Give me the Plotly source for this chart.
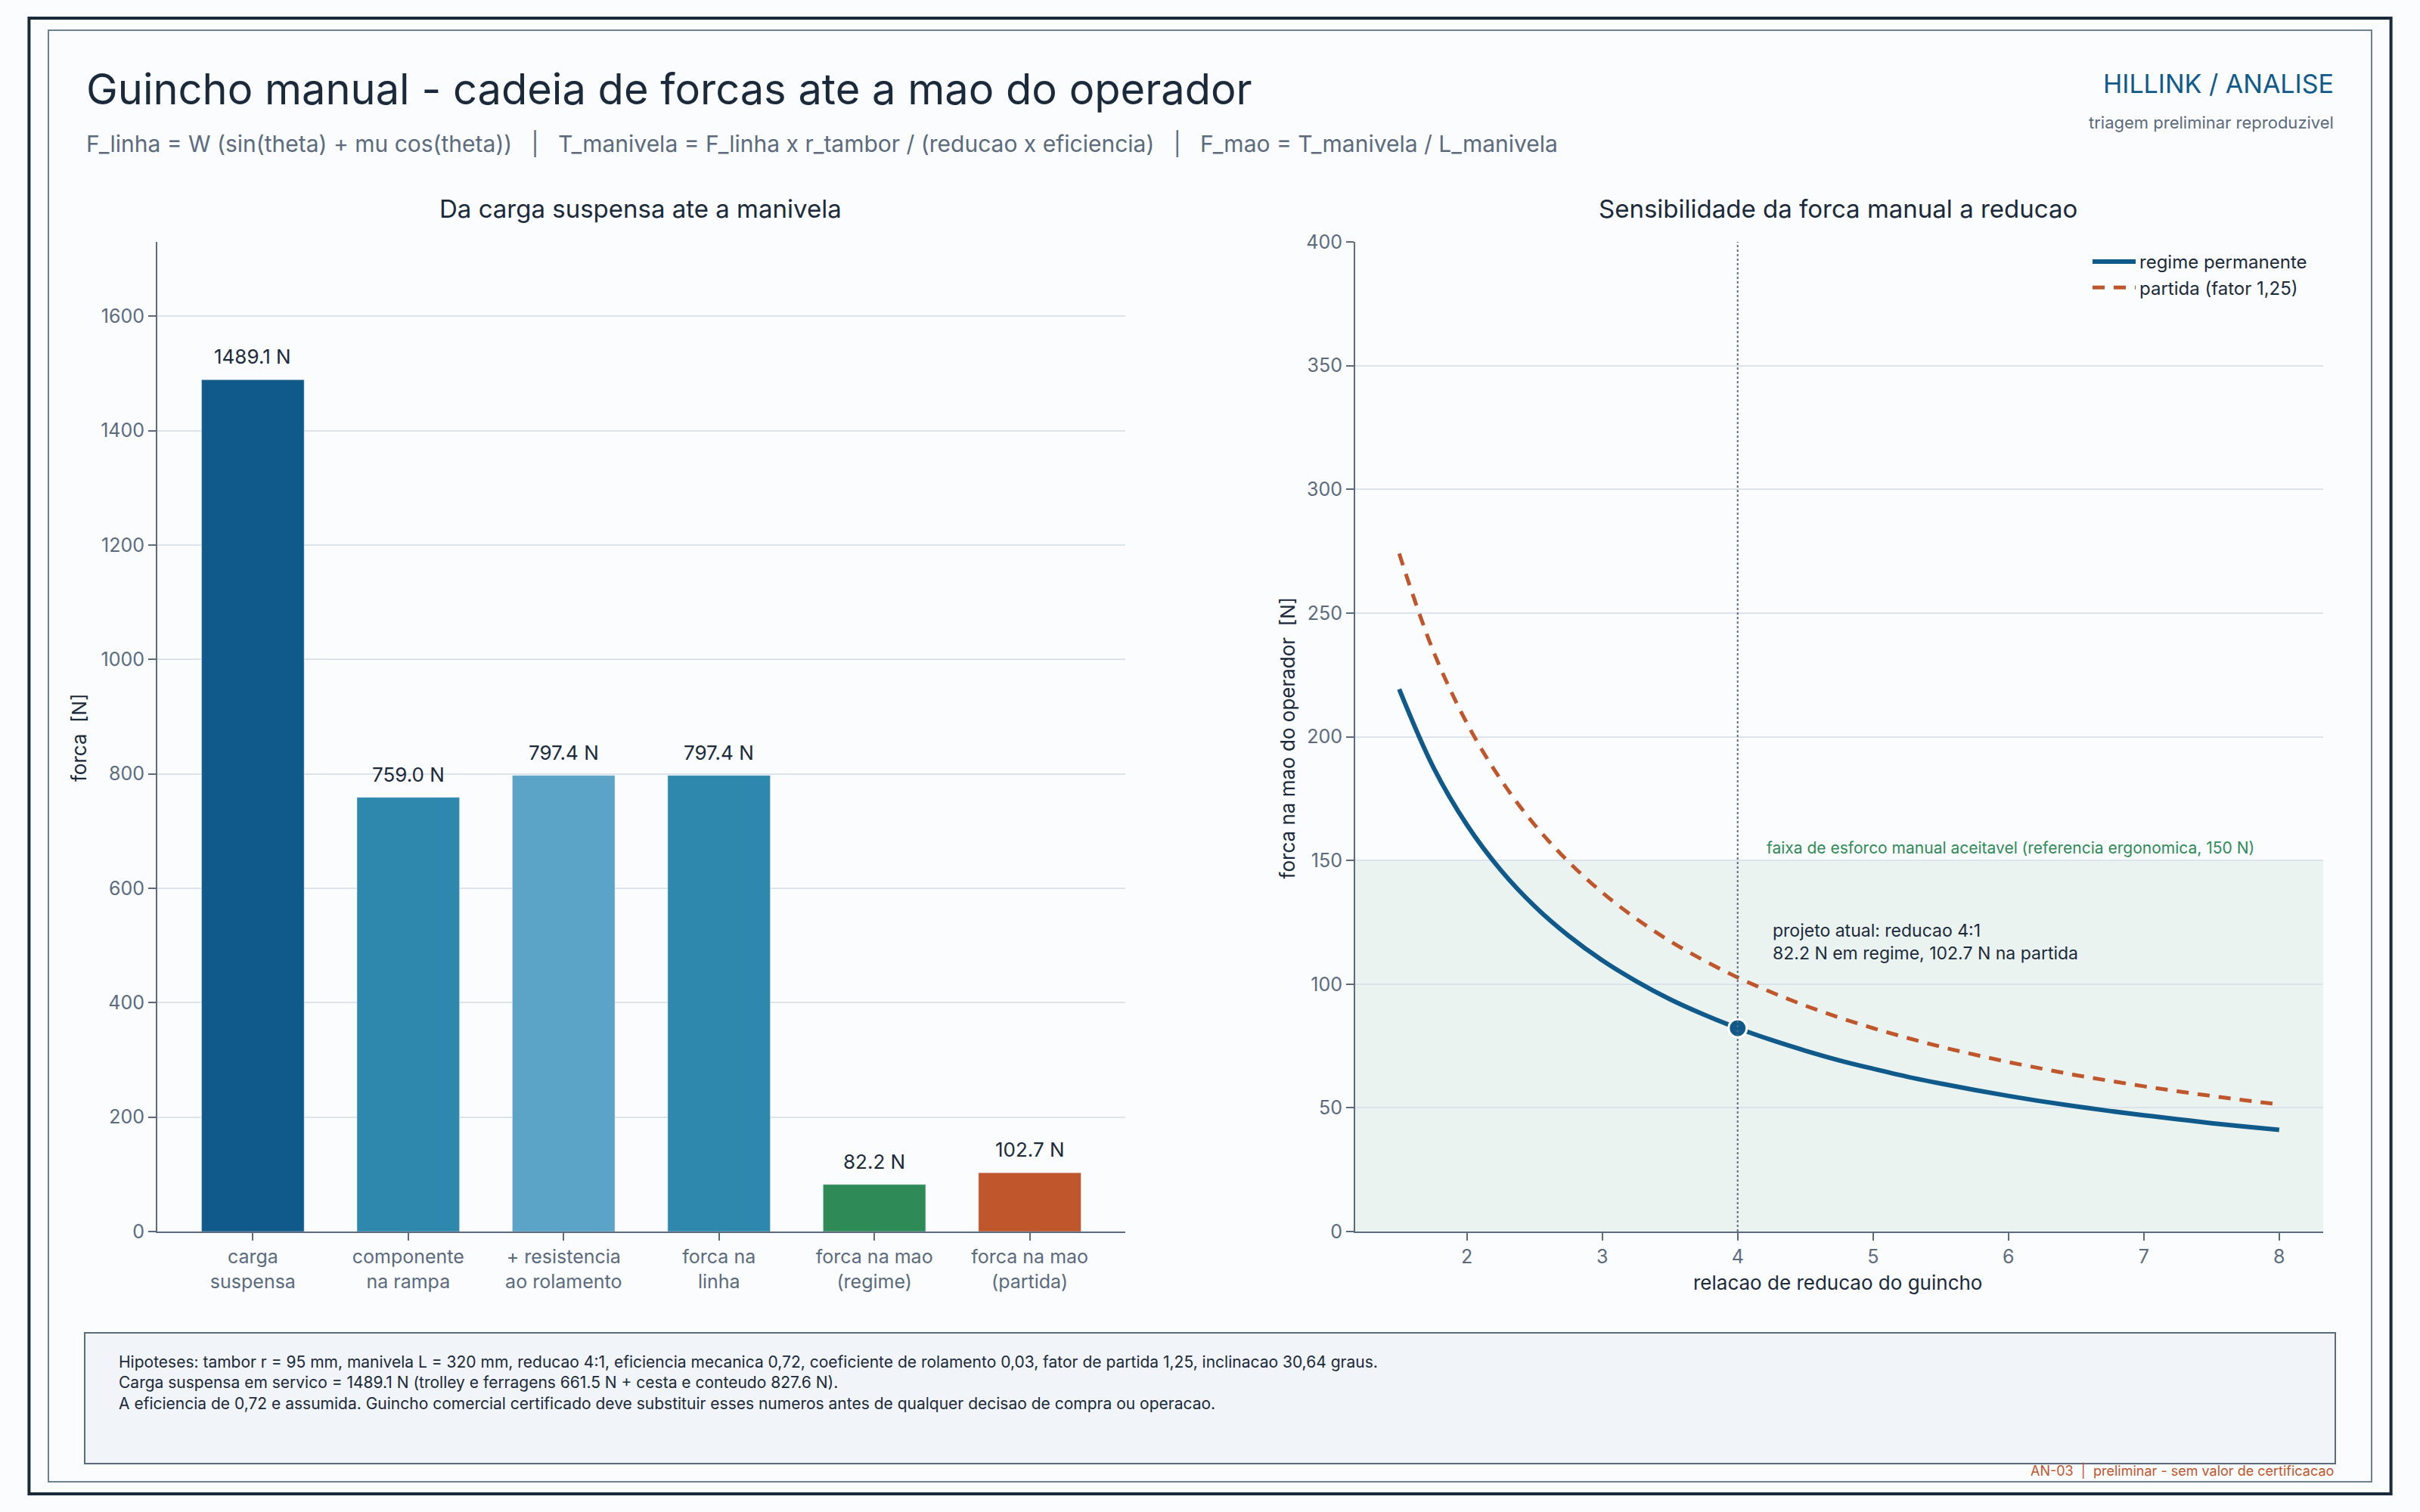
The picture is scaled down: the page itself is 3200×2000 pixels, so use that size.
"""Guincho manual - cadeia de forcas ate a mao do operador

Barras (carga -> mao) e curva de sensibilidade a reducao, em plotly.
"""

import plotly.graph_objects as go

# ---- dados ----
bar_categories = [
    "carga<br>suspensa",
    "componente<br>na rampa",
    "+ resistencia<br>ao rolamento",
    "forca na<br>linha",
    "forca na mao<br>(regime)",
    "forca na mao<br>(partida)",
]
bar_values = [1489.1, 759.0, 797.4, 797.4, 82.2, 102.7]
bar_colors = ["#0f5a8a", "#2e87ad", "#5ba3c7", "#2e87ad", "#2e8b57", "#c0562b"]

reduction_ratio = [
    1.5, 1.75, 2.0, 2.25, 2.5, 2.75, 3.0, 3.25, 3.5, 3.75, 4.0, 4.25, 4.5, 4.75,
    5.0, 5.25, 5.5, 5.75, 6.0, 6.25, 6.5, 6.75, 7.0, 7.25, 7.5, 7.75, 8.0,
]
hand_force_steady = [
    219.2, 187.9, 164.4, 146.1, 131.5, 119.6, 109.6, 101.2, 93.9, 87.7, 82.2,
    77.4, 73.1, 69.2, 65.8, 62.6, 59.8, 57.2, 54.8, 52.6, 50.6, 48.7, 47.0,
    45.4, 43.8, 42.4, 41.1,
]
hand_force_start = [
    274.0, 234.9, 205.5, 182.7, 164.4, 149.5, 137.0, 126.5, 117.4, 109.6, 102.7,
    96.7, 91.3, 86.5, 82.2, 78.3, 74.7, 71.5, 68.5, 65.8, 63.2, 60.9, 58.7,
    56.7, 54.8, 53.0, 51.4,
]
current_ratio = 4
current_steady = 82.2
current_start = 102.7
ergonomic_limit = 150

bar_yticks = [0, 200, 400, 600, 800, 1000, 1200, 1400, 1600]
line_xticks = [2, 3, 4, 5, 6, 7, 8]
line_yticks = [0, 50, 100, 150, 200, 250, 300, 350, 400]

# ---- estilo ----
FONT = "Inter, Liberation Sans, Arial, sans-serif"
INK = "#1b2a3a"
MUTED = "#5b6b7d"
GRID = "#dde3ea"
BG = "#fbfcfe"

fig = go.Figure()

# barras
fig.add_trace(
    go.Bar(
        x=bar_categories,
        y=bar_values,
        marker_color=bar_colors,
        width=0.66,
        showlegend=False,
        xaxis="x",
        yaxis="y",
    )
)
for cat, val in zip(bar_categories, bar_values):
    fig.add_annotation(
        x=cat, y=val, xref="x", yref="y", text=f"{val:.1f} N",
        showarrow=False, yanchor="bottom", yshift=13,
        font={"size": 26, "color": INK},
    )

# faixa ergonomica
fig.add_shape(
    type="rect", xref="x2 domain", yref="y2", x0=0, x1=1, y0=0,
    y1=ergonomic_limit, fillcolor="rgba(46,139,87,0.08)", line_width=0,
    layer="below",
)
fig.add_shape(
    type="line", xref="x2", yref="y2 domain", x0=current_ratio,
    x1=current_ratio, y0=0, y1=1, line={"color": MUTED, "width": 2, "dash": "dot"},
)

# curvas
fig.add_trace(
    go.Scatter(
        x=reduction_ratio, y=hand_force_steady, mode="lines",
        name="regime permanente",
        line={"color": "#0f5a8a", "width": 6, "shape": "spline"},
        xaxis="x2", yaxis="y2",
    )
)
fig.add_trace(
    go.Scatter(
        x=reduction_ratio, y=hand_force_start, mode="lines",
        name="partida (fator 1,25)",
        line={"color": "#c0562b", "width": 5, "dash": "16px,12px", "shape": "spline"},
        xaxis="x2", yaxis="y2",
    )
)
fig.add_trace(
    go.Scatter(
        x=[current_ratio], y=[current_steady], mode="markers",
        marker={"size": 24, "color": "#0f5a8a", "line": {"color": "white", "width": 3}},
        showlegend=False, xaxis="x2", yaxis="y2",
    )
)

fig.add_annotation(
    x=4.2, y=ergonomic_limit, xref="x2", yref="y2",
    text="faixa de esforco manual aceitavel (referencia ergonomica, 150 N)",
    showarrow=False, xanchor="left", yanchor="bottom", yshift=2,
    font={"size": 21, "color": "#2e8b57"},
)
fig.add_annotation(
    x=4.25, y=117, xref="x2", yref="y2",
    text=f"projeto atual: reducao {current_ratio}:1<br>"
    f"{current_steady} N em regime, {current_start} N na partida",
    showarrow=False, xanchor="left", yanchor="middle", align="left",
    font={"size": 23, "color": INK},
)

# ---- textos de cabecalho / rodape ----
fig.add_annotation(
    x=0.035, y=0.941, xref="paper", yref="paper", xanchor="left", yanchor="middle",
    text="Guincho manual - cadeia de forcas ate a mao do operador",
    showarrow=False, font={"size": 56, "color": INK},
)
fig.add_annotation(
    x=0.035, y=0.905, xref="paper", yref="paper", xanchor="left", yanchor="middle",
    text="F_linha = W (sin(theta) + mu cos(theta))   |   "
    "T_manivela = F_linha x r_tambor / (reducao x eficiencia)   |   "
    "F_mao = T_manivela / L_manivela",
    showarrow=False, font={"size": 30, "color": MUTED},
)
fig.add_annotation(
    x=0.965, y=0.945, xref="paper", yref="paper", xanchor="right", yanchor="middle",
    text="HILLINK / ANALISE", showarrow=False,
    font={"size": 34, "color": "#0f5a8a"},
)
fig.add_annotation(
    x=0.965, y=0.919, xref="paper", yref="paper", xanchor="right", yanchor="middle",
    text="triagem preliminar reproduzivel", showarrow=False,
    font={"size": 22, "color": MUTED},
)
fig.add_annotation(
    x=0.2647, y=0.862, xref="paper", yref="paper", xanchor="center",
    yanchor="middle", text="Da carga suspensa ate a manivela", showarrow=False,
    font={"size": 33, "color": INK},
)
fig.add_annotation(
    x=0.7594, y=0.862, xref="paper", yref="paper", xanchor="center",
    yanchor="middle", text="Sensibilidade da forca manual a reducao",
    showarrow=False, font={"size": 33, "color": INK},
)
# titulos dos eixos
fig.add_annotation(
    x=0.0325, y=0.512, xref="paper", yref="paper", xanchor="center",
    yanchor="middle", textangle=-90, text="forca  [N]", showarrow=False,
    font={"size": 26, "color": INK},
)
fig.add_annotation(
    x=0.532, y=0.512, xref="paper", yref="paper", xanchor="center",
    yanchor="middle", textangle=-90, text="forca na mao do operador  [N]",
    showarrow=False, font={"size": 26, "color": INK},
)
fig.add_annotation(
    x=0.7594, y=0.152, xref="paper", yref="paper", xanchor="center",
    yanchor="middle", text="relacao de reducao do guincho", showarrow=False,
    font={"size": 26, "color": INK},
)

# rodape
fig.add_shape(
    type="rect", xref="paper", yref="paper", x0=0.035, x1=0.965, y0=0.032,
    y1=0.1185, fillcolor="#f1f4f8", line={"color": MUTED, "width": 2}, layer="below",
)
fig.add_annotation(
    x=0.0485, y=0.0855, xref="paper", yref="paper", xanchor="left", yanchor="middle",
    align="left", showarrow=False, font={"size": 21, "color": INK},
    text="Hipoteses: tambor r = 95 mm, manivela L = 320 mm, reducao 4:1, eficiencia "
    "mecanica 0,72, coeficiente de rolamento 0,03, fator de partida 1,25, "
    "inclinacao 30,64 graus.<br>"
    "Carga suspensa em servico = 1489.1 N (trolley e ferragens 661.5 N + cesta e "
    "conteudo 827.6 N).<br>"
    "A eficiencia de 0,72 e assumida. Guincho comercial certificado deve substituir "
    "esses numeros antes de qualquer decisao de compra ou operacao.",
)
fig.add_annotation(
    x=0.965, y=0.0275, xref="paper", yref="paper", xanchor="right", yanchor="middle",
    text="AN-03  |  preliminar - sem valor de certificacao", showarrow=False,
    font={"size": 18, "color": "#c0562b"},
)

# molduras
fig.add_shape(
    type="rect", xref="paper", yref="paper", x0=0.012, x1=0.988, y0=0.012,
    y1=0.988, line={"color": "#1b2a3a", "width": 4}, layer="below",
)
fig.add_shape(
    type="rect", xref="paper", yref="paper", x0=0.02, x1=0.98, y0=0.02,
    y1=0.98, line={"color": "#6e7f8f", "width": 2}, layer="below",
)

# ---- eixos ----
axis_common = dict(
    showline=True, linecolor=MUTED, linewidth=2, ticks="outside", ticklen=10,
    tickwidth=2, tickcolor=MUTED, tickfont={"size": 25, "color": MUTED},
    gridcolor=GRID, gridwidth=2, zeroline=False, automargin=False,
)

fig.update_layout(
    width=3200,
    height=2000,
    margin={"l": 0, "r": 0, "t": 0, "b": 0},
    paper_bgcolor=BG,
    plot_bgcolor=BG,
    font={"family": FONT, "color": INK},
    xaxis=dict(
        axis_common, domain=[0.065, 0.465], anchor="y", showgrid=False,
        range=[-0.615, 5.615], type="category",
    ),
    yaxis=dict(
        axis_common, domain=[0.1855, 0.84], anchor="x", range=[0, 1730],
        tickvals=bar_yticks,
    ),
    xaxis2=dict(
        axis_common, domain=[0.56, 0.96], anchor="y2", showgrid=False,
        range=[1.175, 8.325], tickvals=line_xticks,
    ),
    yaxis2=dict(
        axis_common, domain=[0.1855, 0.84], anchor="x2", range=[0, 400],
        tickvals=line_yticks,
    ),
    legend=dict(
        x=0.955, y=0.838, xanchor="right", yanchor="top",
        bgcolor="rgba(0,0,0,0)", font={"size": 24, "color": INK},
        itemwidth=57,
    ),
    showlegend=True,
)

fig.write_html(
    "out.html",
    config={"displayModeBar": False},
    post_script="document.body.style.margin='0';document.body.style.overflow='hidden';",
)
